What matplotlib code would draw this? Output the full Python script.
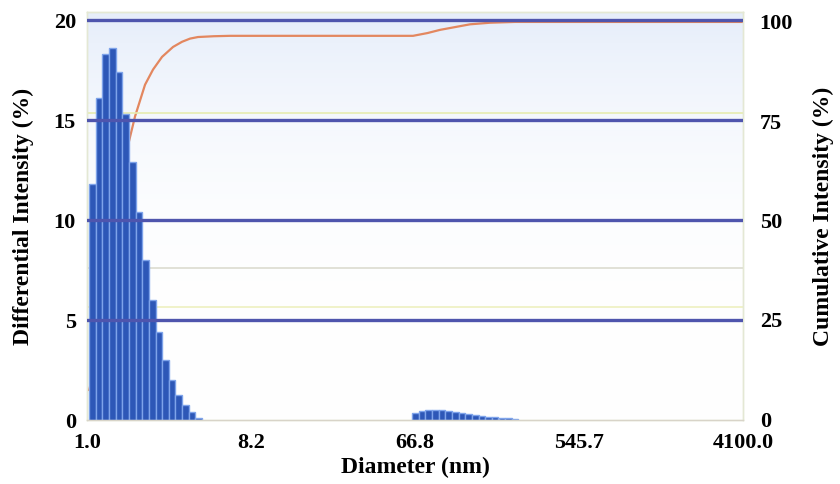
import numpy as np
import matplotlib.pyplot as plt
from matplotlib.ticker import FixedLocator, FixedFormatter, NullLocator

# Differentialverteilung (Balken), erster Peak um 1-4 nm
diam_small = [1.070, 1.164, 1.266, 1.377, 1.499, 1.631, 1.774, 1.930, 2.100,
              2.285, 2.486, 2.704, 2.942, 3.201, 3.483, 3.789, 4.123]
intens_small = [11.8, 16.1, 18.3, 18.6, 17.4, 15.3, 12.9, 10.4, 8.0,
                6.0, 4.4, 3.0, 2.0, 1.25, 0.75, 0.4, 0.12]

# zweiter, kleiner Peak um 60-230 nm
diam_large = [64.3, 69.9, 76.1, 82.8, 90.1, 98.0, 106.6, 116.0, 126.2,
              137.3, 149.4, 162.5, 176.8, 192.4, 209.3, 227.7]
intens_large = [0.35, 0.45, 0.5, 0.5, 0.48, 0.45, 0.4, 0.35, 0.3,
                0.25, 0.2, 0.17, 0.13, 0.1, 0.08, 0.05]

# kumulative Intensitaet (Linie)
cum_diam = [1.026, 1.107, 1.209, 1.339, 1.482, 1.661, 1.838, 2.087, 2.309,
            2.589, 2.976, 3.336, 3.692, 4.086, 5.0, 6.131, 62.4, 75.0, 87.9,
            128.6, 165.7, 227.6, 4100.0]
cum_intens = [7.3, 12.8, 24.1, 36.1, 54.1, 67.9, 76.2, 84.2, 88.0,
              91.2, 93.7, 95.0, 95.8, 96.2, 96.4, 96.5, 96.5, 97.2, 98.0,
              99.4, 99.8, 100.0, 100.0]

x_tick_labels = ['1.0', '8.2', '66.8', '545.7', '4100.0']
left_ticks = [0, 5, 10, 15, 20]
right_ticks = [0, 25, 50, 75, 100]

plt.rcParams['font.family'] = 'Liberation Serif'
plt.rcParams['font.weight'] = 'bold'
plt.rcParams['axes.labelweight'] = 'bold'

fig = plt.figure(figsize=(8.4, 4.84), dpi=100)
ax = fig.add_axes([0.1036, 0.1322, 0.7810, 0.8430])
ax2 = ax.twinx()
# Balken sollen ueber der Linie liegen
ax.set_zorder(ax2.get_zorder() + 1)
ax.patch.set_visible(False)

ax.set_xscale('log')
ax.set_xlim(1.0, 4100.0)
ax.set_ylim(0, 20.4)
ax2.set_ylim(-0.25, 102.5)

# Hintergrund: leichter Blauverlauf oben
grad = np.linspace(1, 0, 256).reshape(-1, 1) ** 3
bg = np.ones((256, 1, 3))
top = np.array([0.90, 0.93, 0.98])
bg = bg * (1 - grad[..., None]) + top * grad[..., None]
ax2.imshow(bg, extent=[0, 1, 0, 1], transform=ax2.transAxes,
           aspect='auto', zorder=0)

# Balken mit log-Breite
f = 1.0875
for d_list, h_list in [(diam_small, intens_small), (diam_large, intens_large)]:
    d = np.array(d_list)
    left = d / np.sqrt(f)
    right = d * np.sqrt(f)
    ax.bar(left, h_list, width=right - left, align='edge',
           color='#2d57b7', edgecolor='#7ea3ea', linewidth=1.0, zorder=2)

# horizontale Gitterlinien (blau), ueber den Balken
for t in left_ticks[1:]:
    ax.axhline(t, color='#4f55ad', lw=2.4, zorder=3)

# schwache Zusatzlinien
for yv, c in [(15.35, '#e6ecb0'), (7.6, '#dcdcd0'), (5.65, '#eef0c0')]:
    ax.axhline(yv, color=c, lw=1.2, zorder=1)

# kumulative Linie
ax2.plot(cum_diam, cum_intens, color='#e3875f', lw=1.6, zorder=2)

# x-Achse: gleichmaessig verteilte Ticks
xt = np.geomspace(1.0, 4100.0, len(x_tick_labels))
ax.xaxis.set_major_locator(FixedLocator(xt))
ax.xaxis.set_major_formatter(FixedFormatter(x_tick_labels))
ax.xaxis.set_minor_locator(NullLocator())
ax2.grid(axis='x', color='#cfd0b4', lw=1.5, zorder=1)

ax.set_yticks(left_ticks)
ax2.set_yticks(right_ticks)

ax.tick_params(axis='x', length=0, labelsize=16, pad=9)
ax.tick_params(axis='y', length=0, labelsize=16, pad=8)
ax2.tick_params(axis='y', length=0, labelsize=16, pad=12)

for a in (ax, ax2):
    for s in a.spines.values():
        s.set_color('#e4e8d4')
        s.set_linewidth(1.0)
ax.spines['bottom'].set_color('#d8d4c8')

ax.set_xlabel('Diameter (nm)', fontsize=17, labelpad=3)
ax.set_ylabel('Differential Intensity (%)', fontsize=17, labelpad=14)
ax2.set_ylabel('Cumulative Intensity (%)', fontsize=17, labelpad=14)

fig.savefig('out.png', dpi=100)
